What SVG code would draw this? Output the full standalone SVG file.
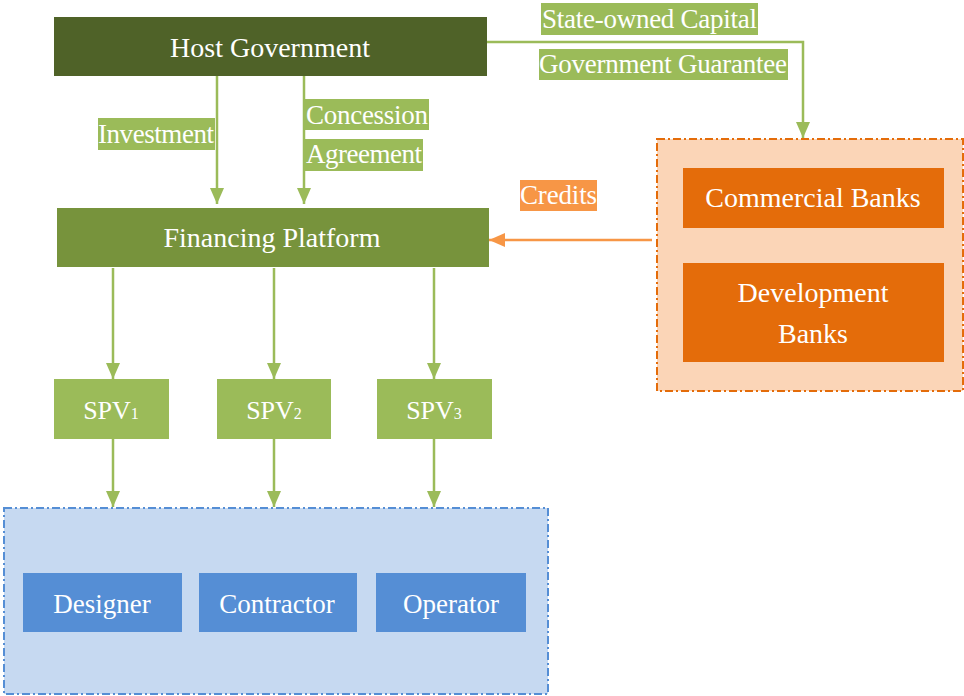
<svg xmlns="http://www.w3.org/2000/svg" width="964" height="696" viewBox="0 0 964 696" font-family="Liberation Serif, DejaVu Serif, serif">
<style>
text{font-family:'Liberation Serif','Times New Roman','DejaVu Serif',serif;font-size:27px;fill:#ffffff;text-anchor:middle}
.lbl{text-anchor:start}
.big{font-size:28px}
.gl{stroke:#9bbb59;stroke-width:2.5;fill:none}
.ol{stroke:#f79646;stroke-width:2.5;fill:none}
.lg{fill:#9bbb59}
.spv{font-size:26px}
.sub{font-size:16px}
</style>
<defs>
<marker id="ag" viewBox="0 0 16 14" refX="16" refY="7" markerWidth="16" markerHeight="14" markerUnits="userSpaceOnUse" orient="auto">
<path d="M0,0 L16,7 L0,14 Z" fill="#9bbb59"/>
</marker>
<marker id="ao" viewBox="0 0 16 14" refX="16" refY="7" markerWidth="16" markerHeight="14" markerUnits="userSpaceOnUse" orient="auto">
<path d="M0,0 L16,7 L0,14 Z" fill="#f79646"/>
</marker>
</defs>
<rect width="964" height="696" fill="#ffffff"/>

<g id="banks-group">
<rect x="657" y="139" width="306" height="252" fill="#fbd5b7" stroke="#e46c0a" stroke-width="2" stroke-dasharray="8 3 2 3"/>
</g>
<g id="contractors-group">
<rect x="4" y="508" width="544" height="186" fill="#c6d9f1" stroke="#558ed5" stroke-width="2" stroke-dasharray="8 3 2 3"/>
</g>

<g id="connectors">
<path class="gl" d="M217,76 V204" marker-end="url(#ag)"/>
<path class="gl" d="M304,76 V204" marker-end="url(#ag)"/>
<path class="gl" d="M487,42 H803 V138" marker-end="url(#ag)"/>
<path class="ol" d="M652,240 H489" marker-end="url(#ao)"/>
<path class="gl" d="M113,268 V379" marker-end="url(#ag)"/>
<path class="gl" d="M274,268 V379" marker-end="url(#ag)"/>
<path class="gl" d="M434,268 V379" marker-end="url(#ag)"/>
<path class="gl" d="M113,439 V507" marker-end="url(#ag)"/>
<path class="gl" d="M274,439 V507" marker-end="url(#ag)"/>
<path class="gl" d="M434,439 V507" marker-end="url(#ag)"/>
<rect class="lg" x="98" y="118" width="117" height="32"/>
<text class="lbl" x="98" y="143" textLength="116">Investment</text>
<rect class="lg" x="305" y="99" width="124" height="31"/>
<text class="lbl" x="306" y="124" textLength="122">Concession</text>
<rect class="lg" x="305" y="139" width="118" height="32"/>
<text class="lbl" x="306" y="163" textLength="116">Agreement</text>
<rect class="lg" x="541" y="3" width="217" height="32"/>
<text class="lbl" x="542" y="28" textLength="215">State-owned Capital</text>
<rect class="lg" x="539" y="49" width="249" height="31"/>
<text class="lbl" x="539" y="73" textLength="248">Government Guarantee</text>
<rect x="520" y="180" width="77" height="31" fill="#f79646"/>
<text class="lbl" x="520" y="204" textLength="77">Credits</text>
</g>

<g id="host-government">
<rect x="54" y="17" width="433" height="59" fill="#4f6228"/>
<text class="big" x="270" y="57">Host Government</text>
</g>
<g id="financing-platform">
<rect x="57" y="208" width="432" height="59" fill="#77933c"/>
<text class="big" x="272" y="247">Financing Platform</text>
</g>
<g id="commercial-banks">
<rect x="683" y="168" width="261" height="60" fill="#e46c0a"/>
<text class="big" x="813" y="207">Commercial Banks</text>
</g>
<g id="development-banks">
<rect x="683" y="263" width="261" height="99" fill="#e46c0a"/>
<text class="big" x="813" y="302">Development</text>
<text class="big" x="813" y="343">Banks</text>
</g>
<g id="spv1">
<rect x="54" y="379" width="115" height="60" fill="#9bbb59"/>
<text class="spv" x="111" y="419">SPV<tspan class="sub">1</tspan></text>
</g>
<g id="spv2">
<rect x="217" y="379" width="114" height="60" fill="#9bbb59"/>
<text class="spv" x="274" y="419">SPV<tspan class="sub">2</tspan></text>
</g>
<g id="spv3">
<rect x="377" y="379" width="115" height="60" fill="#9bbb59"/>
<text class="spv" x="434" y="419">SPV<tspan class="sub">3</tspan></text>
</g>
<g id="designer">
<rect x="23" y="573" width="159" height="59" fill="#558ed5"/>
<text x="102" y="613">Designer</text>
</g>
<g id="contractor">
<rect x="199" y="573" width="158" height="59" fill="#558ed5"/>
<text x="277" y="613">Contractor</text>
</g>
<g id="operator">
<rect x="376" y="573" width="150" height="59" fill="#558ed5"/>
<text x="451" y="613">Operator</text>
</g>
</svg>
